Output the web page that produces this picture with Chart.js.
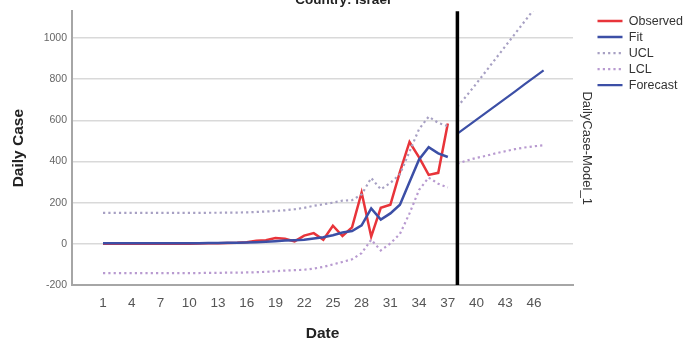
<!DOCTYPE html>
<html>
<head>
<meta charset="utf-8">
<script src="https://cdn.jsdelivr.net/npm/chart.js@4.4.1/dist/chart.umd.min.js"></script>
<style>
  body { margin: 0; background: #fff; }
  #wrap { width: 686px; height: 343px; }
</style>
</head>
<body>
<div id="wrap"><canvas id="trendChart" width="686" height="343"></canvas></div>
<script>
// Days with observed data / model fit, then forecast days
const fitDays = [1, 2, 3, 4, 5, 6, 7, 8, 9, 10, 11, 12, 13, 14, 15, 16, 17, 18, 19, 20,
                 21, 22, 23, 24, 25, 26, 27, 28, 29, 30, 31, 32, 33, 34, 35, 36, 37];
const forecastDays = [38, 39, 40, 41, 42, 43, 44, 45, 46, 47];

const observed = [0, 0, 0, 0, 1, 0, 1, 1, 2, 1, 2, 3, 3, 4, 5, 8, 15, 18, 28, 25,
                  12, 40, 52, 20, 88, 38, 80, 250, 35, 175, 190, 350, 495, 420, 335, 345, 585];
const fit = [3, 3, 3, 3, 3, 3, 3, 3, 3, 3, 3, 4, 4, 5, 5, 6, 8, 10, 13, 16,
             18, 20, 26, 32, 42, 55, 62, 90, 172, 118, 148, 190, 300, 410, 470, 440, 422];
const uclFit = [150, 150, 150, 150, 150, 150, 150, 150, 150, 150, 150, 151, 151, 152, 152, 153, 155, 157, 160, 163,
                168, 175, 185, 192, 200, 210, 212, 240, 320, 265, 296, 338, 448, 558, 618, 588, 572];
const lclFit = [-142, -142, -142, -142, -142, -142, -142, -142, -142, -142, -142, -141, -141, -140, -140, -139, -138, -136, -133, -130,
                -128, -126, -120, -112, -100, -88, -75, -45, 20, -32, 2, 48, 148, 262, 322, 292, 274];

const forecast = [536, 570, 604, 638, 672, 706, 740, 775, 809, 843];
const uclForecast = [666, 722, 780, 840, 900, 960, 1020, 1080, 1140, 1200];
const lclForecast = [390, 405, 418, 428, 440, 450, 460, 468, 474, 479];

const xTicks = [1, 4, 7, 10, 13, 16, 19, 22, 25, 28, 31, 34, 37, 40, 43, 46];
const yTicks = [-200, 0, 200, 400, 600, 800, 1000];
const forecastStart = 38;

Chart.defaults.font.family = '"Liberation Sans", Arial, sans-serif';

function points(days, values) {
    return days.map((d, i) => ({ x: d, y: values[i] }));
}

// vertical black line where the forecast starts
const refLine = {
    id: 'refLine',
    afterDatasetsDraw(chart) {
        const { ctx, chartArea, scales } = chart;
        const x = scales.x.getPixelForValue(forecastStart);
        ctx.save();
        ctx.strokeStyle = '#000';
        ctx.lineWidth = 3.5;
        ctx.beginPath();
        ctx.moveTo(x, chartArea.top);
        ctx.lineTo(x, chartArea.bottom);
        ctx.stroke();
        ctx.restore();
    }
};

// don't join the confidence limits across the fit/forecast break
const breakAtForecast = ctx => ctx.p0.parsed.x === fitDays[fitDays.length - 1] ? 'rgba(0,0,0,0)' : undefined;

// legend samples: take dash + width from the dataset line, not the point
function legendLabels(chart) {
    const items = Chart.defaults.plugins.legend.labels.generateLabels(chart);
    items.forEach(item => {
        const ds = chart.data.datasets[item.datasetIndex];
        item.lineDash = ds.borderDash || [];
        item.lineWidth = ds.borderWidth;
        item.strokeStyle = ds.borderColor;
    });
    return items;
}

const dotted = [2.2, 3.1];

new Chart(document.getElementById('trendChart').getContext('2d'), {
    type: 'line',
    data: {
        datasets: [
            {
                label: 'Observed',
                data: points(fitDays, observed),
                borderColor: '#e8343a',
                borderWidth: 2.5,
                order: 3
            },
            {
                label: 'Fit',
                data: points(fitDays, fit),
                borderColor: '#3c4fa6',
                borderWidth: 2.5,
                order: 2
            },
            {
                label: 'UCL',
                data: points(fitDays, uclFit).concat(points(forecastDays, uclForecast)),
                borderColor: '#a7a0c3',
                borderWidth: 2.2,
                borderDash: dotted,
                segment: { borderColor: breakAtForecast },
                order: 1
            },
            {
                label: 'LCL',
                data: points(fitDays, lclFit).concat(points(forecastDays, lclForecast)),
                borderColor: '#b89ad0',
                borderWidth: 2.2,
                borderDash: dotted,
                segment: { borderColor: breakAtForecast },
                order: 1
            },
            {
                label: 'Forecast',
                data: points(forecastDays, forecast),
                borderColor: '#3c4fa6',
                borderWidth: 2.2,
                order: 2
            }
        ]
    },
    options: {
        responsive: false,
        animation: false,
        devicePixelRatio: 1,
        elements: {
            point: { radius: 0, hoverRadius: 0 },
            line: { tension: 0, fill: false }
        },
        plugins: {
            tooltip: { enabled: false },
            title: {
                display: true,
                text: 'Country: Israel',
                color: '#222',
                font: { size: 13.5, weight: 'bold' },
                padding: { top: -9.5, bottom: 3.3 }
            },
            legend: {
                position: 'right',
                align: 'start',
                fullSize: false,
                maxWidth: 92,
                labels: {
                    usePointStyle: true,
                    pointStyle: 'line',
                    pointStyleWidth: 25,
                    padding: 3.5,
                    color: '#333',
                    font: { size: 12.5 },
                    generateLabels: legendLabels,
                    sort: (a, b) => a.datasetIndex - b.datasetIndex
                }
            }
        },
        scales: {
            x: {
                type: 'linear',
                min: -2.24,
                max: 50.07,
                afterBuildTicks: s => { s.ticks = xTicks.map(v => ({ value: v })); },
                afterFit: s => { s.height = 58; },
                grid: { display: false },
                border: { display: true, color: '#a6a6a6', width: 2 },
                ticks: { color: '#555', font: { size: 13.5 }, padding: 2, autoSkip: false, maxRotation: 0, callback: v => v },
                title: { display: true, text: 'Date', color: '#222', font: { size: 15.5, weight: 'bold' }, padding: { top: 0, bottom: 0 } }
            },
            y: {
                min: -200,
                max: 1130,
                afterBuildTicks: s => { s.ticks = yTicks.map(v => ({ value: v })); },
                afterFit: s => { s.width = 72; },
                grid: { color: '#d9d9d9', lineWidth: 1.5, drawTicks: false },
                border: { color: '#a6a6a6', width: 2 },
                ticks: { color: '#666', font: { size: 10.5 }, padding: 5, callback: v => v },
                title: { display: true, text: 'Daily Case', color: '#222', font: { size: 15.5, weight: 'bold' }, padding: { top: 9.5, bottom: 0 } }
            },
            y2: {
                position: 'right',
                display: true,
                min: 0,
                max: 1,
                afterFit: s => { s.width = 21; },
                grid: { display: false },
                border: { display: false },
                ticks: { display: false },
                title: { display: true, text: 'DailyCase-Model_1', color: '#333', font: { size: 13 }, padding: { top: 0, bottom: 0 } }
            }
        }
    },
    plugins: [refLine]
});
</script>
</body>
</html>
